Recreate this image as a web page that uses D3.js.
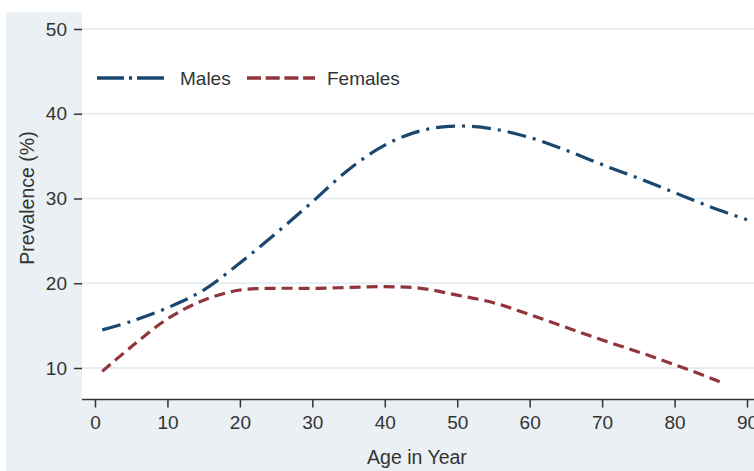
<!DOCTYPE html>
<html>
<head>
<meta charset="utf-8">
<script src="https://cdn.jsdelivr.net/npm/d3@7"></script>
<style>
  body { margin: 0; background: #fff; }
  svg text { font-family: "Liberation Sans", Arial, sans-serif; fill: #333; }
</style>
</head>
<body>
<svg id="chart" width="754" height="471"></svg>
<script>
// Data
const maleAges = [1, 5, 10, 15, 20, 25, 30, 35, 40, 45, 50, 55, 60, 65, 70, 75, 80, 85, 90];
const maleValues = [14.5, 15.5, 17.1, 19.2, 22.4, 25.9, 29.6, 33.4, 36.3, 38.0, 38.55, 38.2, 37.2, 35.7, 34.0, 32.4, 30.7, 29.0, 27.5];
const femaleAges = [1, 5, 10, 15, 20, 25, 30, 35, 40, 45, 50, 55, 60, 65, 70, 75, 80, 85, 87];
const femaleValues = [9.6, 12.5, 15.8, 18.0, 19.2, 19.4, 19.4, 19.5, 19.6, 19.4, 18.6, 17.7, 16.3, 14.8, 13.3, 11.9, 10.4, 8.8, 8.1];
const xTicks = [0, 10, 20, 30, 40, 50, 60, 70, 80, 90];
const yTicks = [10, 20, 30, 40, 50];

const navy = "#1a476f", maroon = "#90353b";
const svg = d3.select("#chart");

// Graph region (bluish) and plot region (white)
svg.append("rect").attr("x", 6).attr("y", 12).attr("width", 748).attr("height", 459).attr("fill", "#eaf0f3");
svg.append("rect").attr("x", 82).attr("y", 12).attr("width", 672).attr("height", 387).attr("fill", "#fff");

const x = d3.scaleLinear().domain([0, 90]).range([95, 747]);
const y = d3.scaleLinear().domain([10, 50]).range([368, 29]);

// Grid lines
svg.append("g").selectAll("line")
    .data(yTicks)
  .enter().append("line")
    .attr("x1", 82).attr("x2", 754)
    .attr("y1", d => y(d)).attr("y2", d => y(d))
    .attr("stroke", "#e6eef1").attr("stroke-width", 2);

// Y axis (ticks only)
const yAxis = svg.append("g")
    .attr("transform", "translate(82,0)")
    .call(d3.axisLeft(y).tickValues(yTicks).tickSize(8).tickPadding(7));
yAxis.select(".domain").remove();
yAxis.selectAll(".tick line").attr("stroke", "#333").attr("stroke-width", 1.5);
yAxis.selectAll("text").style("font-size", "19px").attr("fill", "#333");

// X axis
const xAxis = svg.append("g")
    .attr("transform", "translate(0,399.5)")
    .call(d3.axisBottom(x).tickValues(xTicks).tickSize(8).tickPadding(8).tickSizeOuter(0));
xAxis.select(".domain").attr("d", "M82,0H754").attr("stroke", "#333").attr("stroke-width", 1.5);
xAxis.selectAll(".tick line").attr("stroke", "#333").attr("stroke-width", 1.5);
xAxis.selectAll("text").style("font-size", "19px").attr("fill", "#333");

// Axis titles
svg.append("text")
    .attr("x", 417).attr("y", 464)
    .attr("text-anchor", "middle")
    .style("font-size", "19.5px")
    .text("Age in Year");
svg.append("text")
    .attr("transform", "translate(34,198) rotate(-90)")
    .attr("text-anchor", "middle")
    .style("font-size", "19.5px")
    .text("Prevalence (%)");

// Curves
svg.append("clipPath").attr("id", "plotClip")
  .append("rect").attr("x", 82).attr("y", 12).attr("width", 672).attr("height", 387);

const line = d3.line()
    .x(d => x(d[0]))
    .y(d => y(d[1]))
    .curve(d3.curveCatmullRom);

const lines = svg.append("g").attr("clip-path", "url(#plotClip)");
lines.append("path")
    .datum(femaleAges.map((a, i) => [a, femaleValues[i]]))
    .attr("d", line)
    .attr("fill", "none").attr("stroke", maroon).attr("stroke-width", 3.2)
    .attr("stroke-dasharray", "11,6");
lines.append("path")
    .datum(maleAges.map((a, i) => [a, maleValues[i]]))
    .attr("d", line)
    .attr("fill", "none").attr("stroke", navy).attr("stroke-width", 3.2)
    .attr("stroke-dasharray", "19,7,3,7");

// Legend
const legend = svg.append("g");
legend.append("line").attr("x1", 97).attr("x2", 168).attr("y1", 78).attr("y2", 78)
    .attr("stroke", navy).attr("stroke-width", 3.5).attr("stroke-dasharray", "27,5,3,5");
legend.append("text").attr("x", 180).attr("y", 85).style("font-size", "19px").text("Males");
legend.append("line").attr("x1", 247).attr("x2", 315).attr("y1", 78).attr("y2", 78)
    .attr("stroke", maroon).attr("stroke-width", 3.5).attr("stroke-dasharray", "14,4.7");
legend.append("text").attr("x", 327).attr("y", 85).style("font-size", "19px").text("Females");
</script>
</body>
</html>
